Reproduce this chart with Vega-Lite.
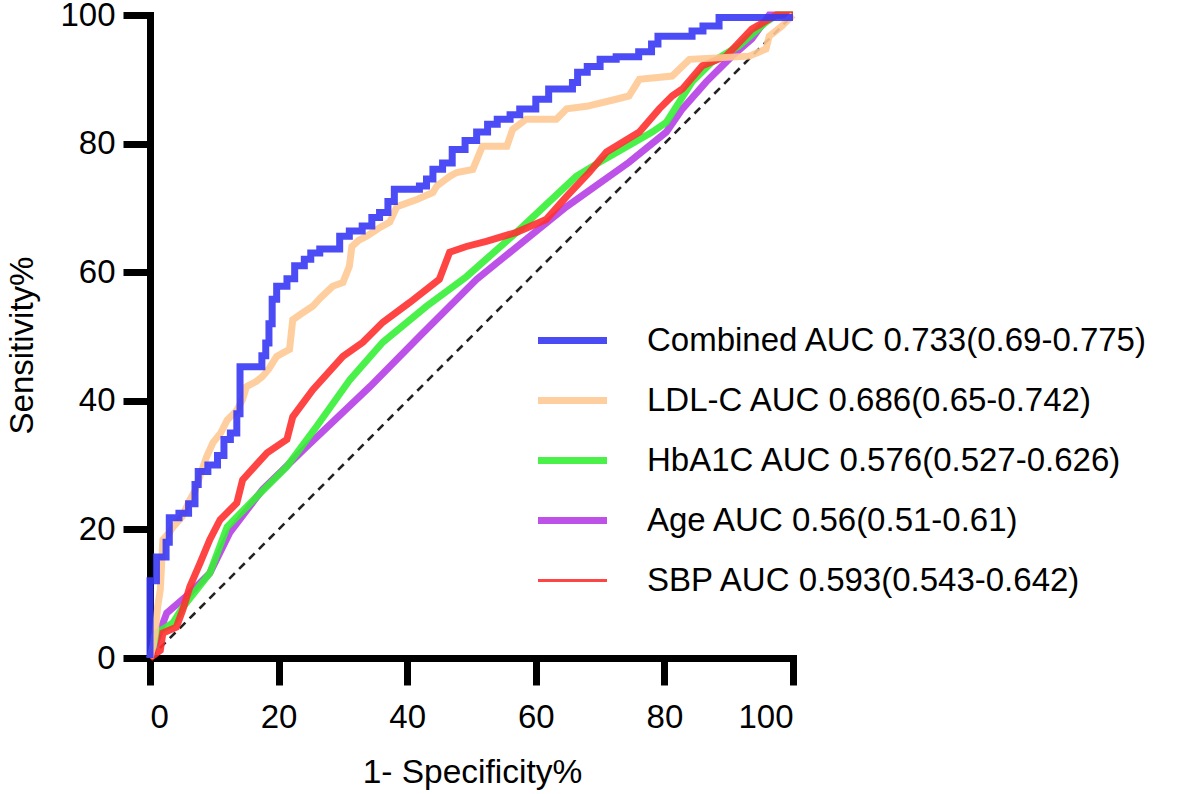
{
  "$schema": "https://vega.github.io/schema/vega-lite/v6.json",
  "width": 643,
  "height": 643,
  "autosize": {"type": "none"},
  "padding": {"left": 150, "top": 15, "right": 388, "bottom": 136},
  "background": "white",
  "config": {
    "view": {"stroke": null}
  },
  "datasets": {
    "diag": [{"x": 0, "y": 0}, {"x": 100, "y": 100}],
    "roc": [
      {"s": "Combined", "i": 1, "x": 0, "y": 0},
      {"s": "Combined", "i": 2, "x": 0, "y": 12},
      {"s": "Combined", "i": 3, "x": 1, "y": 12},
      {"s": "Combined", "i": 4, "x": 1, "y": 15.7},
      {"s": "Combined", "i": 5, "x": 2.5, "y": 15.7},
      {"s": "Combined", "i": 6, "x": 2.5, "y": 18},
      {"s": "Combined", "i": 7, "x": 3, "y": 18},
      {"s": "Combined", "i": 8, "x": 3, "y": 21.8},
      {"s": "Combined", "i": 9, "x": 4.5, "y": 21.8},
      {"s": "Combined", "i": 10, "x": 4.5, "y": 22.5},
      {"s": "Combined", "i": 11, "x": 6, "y": 22.5},
      {"s": "Combined", "i": 12, "x": 6, "y": 24},
      {"s": "Combined", "i": 13, "x": 7, "y": 24},
      {"s": "Combined", "i": 14, "x": 7, "y": 27},
      {"s": "Combined", "i": 15, "x": 7.5, "y": 27},
      {"s": "Combined", "i": 16, "x": 7.5, "y": 29},
      {"s": "Combined", "i": 17, "x": 9, "y": 29},
      {"s": "Combined", "i": 18, "x": 9, "y": 30},
      {"s": "Combined", "i": 19, "x": 10.5, "y": 30},
      {"s": "Combined", "i": 20, "x": 10.5, "y": 31.5},
      {"s": "Combined", "i": 21, "x": 11.5, "y": 31.5},
      {"s": "Combined", "i": 22, "x": 11.5, "y": 34},
      {"s": "Combined", "i": 23, "x": 12.5, "y": 34},
      {"s": "Combined", "i": 24, "x": 12.5, "y": 35},
      {"s": "Combined", "i": 25, "x": 13.5, "y": 35},
      {"s": "Combined", "i": 26, "x": 13.5, "y": 38},
      {"s": "Combined", "i": 27, "x": 14, "y": 38},
      {"s": "Combined", "i": 28, "x": 14, "y": 45.3},
      {"s": "Combined", "i": 29, "x": 17.4, "y": 45.3},
      {"s": "Combined", "i": 30, "x": 17.4, "y": 47},
      {"s": "Combined", "i": 31, "x": 18, "y": 47},
      {"s": "Combined", "i": 32, "x": 18, "y": 49},
      {"s": "Combined", "i": 33, "x": 18.5, "y": 49},
      {"s": "Combined", "i": 34, "x": 18.5, "y": 52},
      {"s": "Combined", "i": 35, "x": 19, "y": 52},
      {"s": "Combined", "i": 36, "x": 19, "y": 55.8},
      {"s": "Combined", "i": 37, "x": 19.7, "y": 55.8},
      {"s": "Combined", "i": 38, "x": 19.7, "y": 57.8},
      {"s": "Combined", "i": 39, "x": 21.3, "y": 57.8},
      {"s": "Combined", "i": 40, "x": 21.3, "y": 59},
      {"s": "Combined", "i": 41, "x": 22.5, "y": 59},
      {"s": "Combined", "i": 42, "x": 22.5, "y": 61},
      {"s": "Combined", "i": 43, "x": 24, "y": 61},
      {"s": "Combined", "i": 44, "x": 24, "y": 62},
      {"s": "Combined", "i": 45, "x": 25, "y": 62},
      {"s": "Combined", "i": 46, "x": 25, "y": 63},
      {"s": "Combined", "i": 47, "x": 26.4, "y": 63},
      {"s": "Combined", "i": 48, "x": 26.4, "y": 63.6},
      {"s": "Combined", "i": 49, "x": 29.5, "y": 63.6},
      {"s": "Combined", "i": 50, "x": 29.5, "y": 65.6},
      {"s": "Combined", "i": 51, "x": 31, "y": 65.6},
      {"s": "Combined", "i": 52, "x": 31, "y": 66.4},
      {"s": "Combined", "i": 53, "x": 33, "y": 66.4},
      {"s": "Combined", "i": 54, "x": 33, "y": 67.2},
      {"s": "Combined", "i": 55, "x": 34.5, "y": 67.2},
      {"s": "Combined", "i": 56, "x": 34.5, "y": 68.5},
      {"s": "Combined", "i": 57, "x": 35.7, "y": 68.5},
      {"s": "Combined", "i": 58, "x": 35.7, "y": 69.3},
      {"s": "Combined", "i": 59, "x": 37, "y": 69.3},
      {"s": "Combined", "i": 60, "x": 37, "y": 71},
      {"s": "Combined", "i": 61, "x": 38, "y": 71},
      {"s": "Combined", "i": 62, "x": 38, "y": 72.9},
      {"s": "Combined", "i": 63, "x": 41.9, "y": 72.9},
      {"s": "Combined", "i": 64, "x": 41.9, "y": 73.4},
      {"s": "Combined", "i": 65, "x": 43, "y": 73.4},
      {"s": "Combined", "i": 66, "x": 43, "y": 74.5},
      {"s": "Combined", "i": 67, "x": 44, "y": 74.5},
      {"s": "Combined", "i": 68, "x": 44, "y": 76},
      {"s": "Combined", "i": 69, "x": 45.5, "y": 76},
      {"s": "Combined", "i": 70, "x": 45.5, "y": 77},
      {"s": "Combined", "i": 71, "x": 47, "y": 77},
      {"s": "Combined", "i": 72, "x": 47, "y": 79.1},
      {"s": "Combined", "i": 73, "x": 49, "y": 79.1},
      {"s": "Combined", "i": 74, "x": 49, "y": 80.5},
      {"s": "Combined", "i": 75, "x": 50.8, "y": 80.5},
      {"s": "Combined", "i": 76, "x": 50.8, "y": 81.8},
      {"s": "Combined", "i": 77, "x": 52.5, "y": 81.8},
      {"s": "Combined", "i": 78, "x": 52.5, "y": 83},
      {"s": "Combined", "i": 79, "x": 54, "y": 83},
      {"s": "Combined", "i": 80, "x": 54, "y": 83.8},
      {"s": "Combined", "i": 81, "x": 56, "y": 83.8},
      {"s": "Combined", "i": 82, "x": 56, "y": 84.5},
      {"s": "Combined", "i": 83, "x": 57.5, "y": 84.5},
      {"s": "Combined", "i": 84, "x": 57.5, "y": 85.4},
      {"s": "Combined", "i": 85, "x": 60, "y": 85.4},
      {"s": "Combined", "i": 86, "x": 60, "y": 86.9},
      {"s": "Combined", "i": 87, "x": 62, "y": 86.9},
      {"s": "Combined", "i": 88, "x": 62, "y": 88.5},
      {"s": "Combined", "i": 89, "x": 65.7, "y": 88.5},
      {"s": "Combined", "i": 90, "x": 65.7, "y": 89.5},
      {"s": "Combined", "i": 91, "x": 66.5, "y": 89.5},
      {"s": "Combined", "i": 92, "x": 66.5, "y": 91.1},
      {"s": "Combined", "i": 93, "x": 68, "y": 91.1},
      {"s": "Combined", "i": 94, "x": 68, "y": 92},
      {"s": "Combined", "i": 95, "x": 70, "y": 92},
      {"s": "Combined", "i": 96, "x": 70, "y": 93.1},
      {"s": "Combined", "i": 97, "x": 72.5, "y": 93.1},
      {"s": "Combined", "i": 98, "x": 72.5, "y": 93.5},
      {"s": "Combined", "i": 99, "x": 76, "y": 93.5},
      {"s": "Combined", "i": 100, "x": 76, "y": 94.3},
      {"s": "Combined", "i": 101, "x": 78, "y": 94.3},
      {"s": "Combined", "i": 102, "x": 78, "y": 95.5},
      {"s": "Combined", "i": 103, "x": 79, "y": 95.5},
      {"s": "Combined", "i": 104, "x": 79, "y": 96.7},
      {"s": "Combined", "i": 105, "x": 84.3, "y": 96.7},
      {"s": "Combined", "i": 106, "x": 84.3, "y": 97.5},
      {"s": "Combined", "i": 107, "x": 86, "y": 97.5},
      {"s": "Combined", "i": 108, "x": 86, "y": 98.3},
      {"s": "Combined", "i": 109, "x": 88.5, "y": 98.3},
      {"s": "Combined", "i": 110, "x": 88.5, "y": 99.6},
      {"s": "Combined", "i": 111, "x": 100, "y": 99.6},
      {"s": "LDL-C", "i": 1, "x": 0, "y": 0},
      {"s": "LDL-C", "i": 2, "x": 0.5, "y": 2},
      {"s": "LDL-C", "i": 3, "x": 0.8, "y": 4},
      {"s": "LDL-C", "i": 4, "x": 1.2, "y": 8},
      {"s": "LDL-C", "i": 5, "x": 1.6, "y": 10.6},
      {"s": "LDL-C", "i": 6, "x": 2, "y": 18.4},
      {"s": "LDL-C", "i": 7, "x": 3, "y": 19.5},
      {"s": "LDL-C", "i": 8, "x": 3.6, "y": 20.4},
      {"s": "LDL-C", "i": 9, "x": 5, "y": 22},
      {"s": "LDL-C", "i": 10, "x": 6.2, "y": 24.6},
      {"s": "LDL-C", "i": 11, "x": 7, "y": 26},
      {"s": "LDL-C", "i": 12, "x": 8, "y": 29},
      {"s": "LDL-C", "i": 13, "x": 8.8, "y": 31.3},
      {"s": "LDL-C", "i": 14, "x": 9.8, "y": 33.5},
      {"s": "LDL-C", "i": 15, "x": 11, "y": 35},
      {"s": "LDL-C", "i": 16, "x": 12, "y": 37},
      {"s": "LDL-C", "i": 17, "x": 13.5, "y": 38.5},
      {"s": "LDL-C", "i": 18, "x": 14.4, "y": 40.2},
      {"s": "LDL-C", "i": 19, "x": 15, "y": 42.2},
      {"s": "LDL-C", "i": 20, "x": 16.5, "y": 43},
      {"s": "LDL-C", "i": 21, "x": 17.5, "y": 43.8},
      {"s": "LDL-C", "i": 22, "x": 18.5, "y": 45},
      {"s": "LDL-C", "i": 23, "x": 19.7, "y": 46.9},
      {"s": "LDL-C", "i": 24, "x": 21.7, "y": 48},
      {"s": "LDL-C", "i": 25, "x": 22.2, "y": 52.6},
      {"s": "LDL-C", "i": 26, "x": 23.5, "y": 53.5},
      {"s": "LDL-C", "i": 27, "x": 25.3, "y": 54.7},
      {"s": "LDL-C", "i": 28, "x": 26.5, "y": 56},
      {"s": "LDL-C", "i": 29, "x": 28.4, "y": 57.8},
      {"s": "LDL-C", "i": 30, "x": 30, "y": 58.4},
      {"s": "LDL-C", "i": 31, "x": 31, "y": 60.9},
      {"s": "LDL-C", "i": 32, "x": 31.4, "y": 64},
      {"s": "LDL-C", "i": 33, "x": 32.5, "y": 65},
      {"s": "LDL-C", "i": 34, "x": 33.7, "y": 65.6},
      {"s": "LDL-C", "i": 35, "x": 35.5, "y": 66.8},
      {"s": "LDL-C", "i": 36, "x": 37.3, "y": 67.8},
      {"s": "LDL-C", "i": 37, "x": 38.4, "y": 70.2},
      {"s": "LDL-C", "i": 38, "x": 41.5, "y": 71.3},
      {"s": "LDL-C", "i": 39, "x": 44, "y": 72.4},
      {"s": "LDL-C", "i": 40, "x": 44.6, "y": 73.4},
      {"s": "LDL-C", "i": 41, "x": 46.6, "y": 74.9},
      {"s": "LDL-C", "i": 42, "x": 47.7, "y": 75.5},
      {"s": "LDL-C", "i": 43, "x": 50.2, "y": 76},
      {"s": "LDL-C", "i": 44, "x": 51.7, "y": 79.6},
      {"s": "LDL-C", "i": 45, "x": 55.5, "y": 79.6},
      {"s": "LDL-C", "i": 46, "x": 56.4, "y": 82.2},
      {"s": "LDL-C", "i": 47, "x": 58.5, "y": 83.8},
      {"s": "LDL-C", "i": 48, "x": 63.2, "y": 83.8},
      {"s": "LDL-C", "i": 49, "x": 64.8, "y": 85.4},
      {"s": "LDL-C", "i": 50, "x": 67.9, "y": 85.8},
      {"s": "LDL-C", "i": 51, "x": 72.5, "y": 86.9},
      {"s": "LDL-C", "i": 52, "x": 74.5, "y": 87.4},
      {"s": "LDL-C", "i": 53, "x": 76.1, "y": 90},
      {"s": "LDL-C", "i": 54, "x": 81.2, "y": 90.5},
      {"s": "LDL-C", "i": 55, "x": 83.9, "y": 93.1},
      {"s": "LDL-C", "i": 56, "x": 93.2, "y": 93.6},
      {"s": "LDL-C", "i": 57, "x": 95.8, "y": 94.7},
      {"s": "LDL-C", "i": 58, "x": 96.3, "y": 96.7},
      {"s": "LDL-C", "i": 59, "x": 98.3, "y": 98.3},
      {"s": "LDL-C", "i": 60, "x": 100, "y": 100},
      {"s": "SBP", "i": 1, "x": 0, "y": 0},
      {"s": "SBP", "i": 2, "x": 1.6, "y": 1.2},
      {"s": "SBP", "i": 3, "x": 2, "y": 3.9},
      {"s": "SBP", "i": 4, "x": 4.1, "y": 4.8},
      {"s": "SBP", "i": 5, "x": 5.1, "y": 7.5},
      {"s": "SBP", "i": 6, "x": 6.2, "y": 11.1},
      {"s": "SBP", "i": 7, "x": 7.8, "y": 14.8},
      {"s": "SBP", "i": 8, "x": 9.3, "y": 18.4},
      {"s": "SBP", "i": 9, "x": 10.9, "y": 21.5},
      {"s": "SBP", "i": 10, "x": 13.5, "y": 24.1},
      {"s": "SBP", "i": 11, "x": 14.4, "y": 27.7},
      {"s": "SBP", "i": 12, "x": 18.2, "y": 31.9},
      {"s": "SBP", "i": 13, "x": 21.3, "y": 34},
      {"s": "SBP", "i": 14, "x": 22.2, "y": 37.5},
      {"s": "SBP", "i": 15, "x": 25.3, "y": 41.7},
      {"s": "SBP", "i": 16, "x": 30, "y": 46.9},
      {"s": "SBP", "i": 17, "x": 33.1, "y": 49.1},
      {"s": "SBP", "i": 18, "x": 36.2, "y": 52.2},
      {"s": "SBP", "i": 19, "x": 40.4, "y": 55.3},
      {"s": "SBP", "i": 20, "x": 45, "y": 58.9},
      {"s": "SBP", "i": 21, "x": 46.6, "y": 63.1},
      {"s": "SBP", "i": 22, "x": 49.2, "y": 64},
      {"s": "SBP", "i": 23, "x": 52.3, "y": 64.8},
      {"s": "SBP", "i": 24, "x": 57, "y": 66.2},
      {"s": "SBP", "i": 25, "x": 61.6, "y": 68.2},
      {"s": "SBP", "i": 26, "x": 64.8, "y": 71.8},
      {"s": "SBP", "i": 27, "x": 68.3, "y": 75.5},
      {"s": "SBP", "i": 28, "x": 71, "y": 78.7},
      {"s": "SBP", "i": 29, "x": 76.1, "y": 81.8},
      {"s": "SBP", "i": 30, "x": 79.2, "y": 85.4},
      {"s": "SBP", "i": 31, "x": 81.2, "y": 87.4},
      {"s": "SBP", "i": 32, "x": 82.8, "y": 88.5},
      {"s": "SBP", "i": 33, "x": 85.9, "y": 92.1},
      {"s": "SBP", "i": 34, "x": 89.6, "y": 93.6},
      {"s": "SBP", "i": 35, "x": 93.6, "y": 97.8},
      {"s": "SBP", "i": 36, "x": 97.4, "y": 100},
      {"s": "SBP", "i": 37, "x": 100, "y": 100},
      {"s": "HbA1C", "i": 1, "x": 0, "y": 0},
      {"s": "HbA1C", "i": 2, "x": 1.1, "y": 3.9},
      {"s": "HbA1C", "i": 3, "x": 3.6, "y": 5.5},
      {"s": "HbA1C", "i": 4, "x": 5.1, "y": 7.9},
      {"s": "HbA1C", "i": 5, "x": 9.3, "y": 13.2},
      {"s": "HbA1C", "i": 6, "x": 12, "y": 20.4},
      {"s": "HbA1C", "i": 7, "x": 16.6, "y": 25.1},
      {"s": "HbA1C", "i": 8, "x": 21.3, "y": 29.8},
      {"s": "HbA1C", "i": 9, "x": 25.9, "y": 36},
      {"s": "HbA1C", "i": 10, "x": 31.1, "y": 43.3},
      {"s": "HbA1C", "i": 11, "x": 36.2, "y": 49.1},
      {"s": "HbA1C", "i": 12, "x": 43, "y": 54.7},
      {"s": "HbA1C", "i": 13, "x": 49.2, "y": 59.3},
      {"s": "HbA1C", "i": 14, "x": 57, "y": 66.2},
      {"s": "HbA1C", "i": 15, "x": 66.3, "y": 74.9},
      {"s": "HbA1C", "i": 16, "x": 69.9, "y": 77.1},
      {"s": "HbA1C", "i": 17, "x": 78.1, "y": 81.8},
      {"s": "HbA1C", "i": 18, "x": 80.3, "y": 83.3},
      {"s": "HbA1C", "i": 19, "x": 84.3, "y": 89.6},
      {"s": "HbA1C", "i": 20, "x": 87.4, "y": 92.7},
      {"s": "HbA1C", "i": 21, "x": 91.6, "y": 95.2},
      {"s": "HbA1C", "i": 22, "x": 95.8, "y": 98.9},
      {"s": "HbA1C", "i": 23, "x": 97.5, "y": 100},
      {"s": "HbA1C", "i": 24, "x": 100, "y": 100},
      {"s": "Age", "i": 1, "x": 0, "y": 0},
      {"s": "Age", "i": 2, "x": 2.6, "y": 7},
      {"s": "Age", "i": 3, "x": 6.2, "y": 10.1},
      {"s": "Age", "i": 4, "x": 9.3, "y": 13.2},
      {"s": "Age", "i": 5, "x": 12.4, "y": 19.5},
      {"s": "Age", "i": 6, "x": 17.5, "y": 26.2},
      {"s": "Age", "i": 7, "x": 24.4, "y": 32.9},
      {"s": "Age", "i": 8, "x": 34.2, "y": 42.2},
      {"s": "Age", "i": 9, "x": 41.9, "y": 50},
      {"s": "Age", "i": 10, "x": 50.8, "y": 58.9},
      {"s": "Age", "i": 11, "x": 64.8, "y": 70.2},
      {"s": "Age", "i": 12, "x": 74.5, "y": 77.1},
      {"s": "Age", "i": 13, "x": 80.3, "y": 81.8},
      {"s": "Age", "i": 14, "x": 82.8, "y": 85.4},
      {"s": "Age", "i": 15, "x": 86.5, "y": 89.6},
      {"s": "Age", "i": 16, "x": 90.5, "y": 93.6},
      {"s": "Age", "i": 17, "x": 93.6, "y": 96.3},
      {"s": "Age", "i": 18, "x": 96.3, "y": 100},
      {"s": "Age", "i": 19, "x": 100, "y": 100}
    ]
  },
  "layer": [
    {
      "data": {"name": "diag"},
      "mark": {"type": "line", "color": "#222222", "strokeWidth": 2.6, "strokeDash": [8, 6], "clip": false},
      "encoding": {
        "x": {"field": "x", "type": "quantitative", "scale": {"domain": [0, 100], "nice": false},
          "axis": {"values": [0, 20, 40, 60, 80, 100], "title": "1- Specificity%", "grid": false,
            "domainColor": "black", "domainWidth": 7, "domainCap": "square",
            "tickColor": "black", "tickWidth": 7, "tickSize": 27,
            "labelFont": "Liberation Sans", "labelFontSize": 33, "labelColor": "black",
            "labelBaseline": "alphabetic", "labelPadding": 42,
            "titleFont": "Liberation Sans", "titleFontSize": 33.5, "titleFontWeight": "normal", "titleColor": "black",
            "titleBaseline": "alphabetic", "titleY": 124, "titleX": 322}},
        "y": {"field": "y", "type": "quantitative", "scale": {"domain": [0, 100], "nice": false},
          "axis": {"values": [0, 20, 40, 60, 80, 100], "title": "Sensitivity%", "grid": false,
            "domainColor": "black", "domainWidth": 7, "domainCap": "square",
            "tickColor": "black", "tickWidth": 7, "tickSize": 27,
            "labelFont": "Liberation Sans", "labelFontSize": 33, "labelColor": "black", "labelPadding": 8,
            "titleFont": "Liberation Sans", "titleFontSize": 33, "titleFontWeight": "normal", "titleColor": "black",
            "titleBaseline": "alphabetic", "titleAngle": 270, "titleX": -118, "titleY": 330}}
      }
    },
    {
      "data": {"name": "roc"},
      "transform": [{"filter": "datum.s == 'Age'"}],
      "mark": {"type": "line", "strokeWidth": 7, "opacity": 0.9, "strokeJoin": "miter"},
      "encoding": {
        "x": {"field": "x", "type": "quantitative"},
        "y": {"field": "y", "type": "quantitative"},
        "order": {"field": "i", "type": "quantitative"},
        "color": {"field": "s", "type": "nominal"}
      }
    },
    {
      "data": {"name": "roc"},
      "transform": [{"filter": "datum.s == 'HbA1C'"}],
      "mark": {"type": "line", "strokeWidth": 7, "opacity": 0.9, "strokeJoin": "miter"},
      "encoding": {
        "x": {"field": "x", "type": "quantitative"},
        "y": {"field": "y", "type": "quantitative"},
        "order": {"field": "i", "type": "quantitative"},
        "color": {"field": "s", "type": "nominal"}
      }
    },
    {
      "data": {"name": "roc"},
      "transform": [{"filter": "datum.s == 'SBP'"}],
      "mark": {"type": "line", "strokeWidth": 7, "opacity": 0.9, "strokeJoin": "miter"},
      "encoding": {
        "x": {"field": "x", "type": "quantitative"},
        "y": {"field": "y", "type": "quantitative"},
        "order": {"field": "i", "type": "quantitative"},
        "color": {"field": "s", "type": "nominal"}
      }
    },
    {
      "data": {"name": "roc"},
      "transform": [{"filter": "datum.s == 'LDL-C'"}],
      "mark": {"type": "line", "strokeWidth": 7, "opacity": 0.9, "strokeJoin": "miter"},
      "encoding": {
        "x": {"field": "x", "type": "quantitative"},
        "y": {"field": "y", "type": "quantitative"},
        "order": {"field": "i", "type": "quantitative"},
        "color": {"field": "s", "type": "nominal"}
      }
    },
    {
      "data": {"name": "roc"},
      "transform": [{"filter": "datum.s == 'Combined'"}],
      "mark": {"type": "line", "strokeWidth": 7, "opacity": 0.9, "strokeJoin": "miter"},
      "encoding": {
        "x": {"field": "x", "type": "quantitative"},
        "y": {"field": "y", "type": "quantitative"},
        "order": {"field": "i", "type": "quantitative"},
        "color": {
          "field": "s",
          "type": "nominal",
          "scale": {
            "domain": ["Combined", "LDL-C", "HbA1C", "Age", "SBP"],
            "range": ["#3838f5", "#ffc994", "#36f036", "#b63fe6", "#ff3030"]
          },
          "legend": {
            "title": null,
            "orient": "none",
            "legendX": 406,
            "legendY": 309,
            "padding": 0,
            "symbolType": "stroke",
            "symbolSize": 4761,
            "symbolStrokeWidth": 7,
            "symbolOpacity": 0.9,
            "labelOffset": 58,
            "labelLimit": 0,
            "labelFont": "Liberation Sans",
            "labelFontSize": 33,
            "labelColor": "black",
            "rowPadding": 26,
            "labelExpr": "datum.label == 'Combined' ? 'Combined AUC 0.733(0.69-0.775)' : datum.label == 'LDL-C' ? 'LDL-C AUC 0.686(0.65-0.742)' : datum.label == 'HbA1C' ? 'HbA1C AUC 0.576(0.527-0.626)' : datum.label == 'Age' ? 'Age AUC 0.56(0.51-0.61)' : 'SBP AUC 0.593(0.543-0.642)'",
            "encode": {
              "symbols": {
                "update": {
                  "strokeWidth": {"signal": "datum.value === 'SBP' ? 3 : 7"},
                  "stroke": {"signal": "datum.value === 'SBP' ? '#ff7a7a' : scale('color', datum.value)"}
                }
              }
            }
          }
        }
      }
    }
  ]
}
